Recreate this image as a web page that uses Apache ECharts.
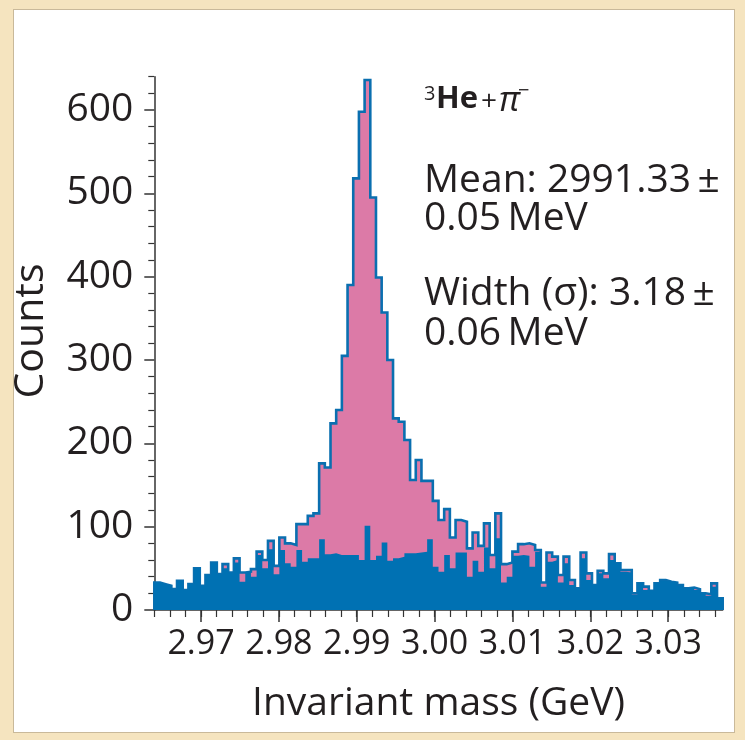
<!DOCTYPE html>
<html><head><meta charset="utf-8">
<script src="https://cdn.jsdelivr.net/npm/echarts@6/dist/echarts.min.js"></script>
<style>
html,body{margin:0;padding:0;background:#f5e4bf;width:745px;height:740px;overflow:hidden}
#panel{position:absolute;left:13px;top:9px;width:722px;height:724px;background:#fff;border:1.5px solid #c9b99a;box-sizing:border-box}
#c{position:absolute;left:0;top:0;width:745px;height:740px}
</style>
</head><body><div id="panel"></div><div id="c"></div>
<script>
// Histogram binning (GeV)
const binStart = 2.964;
const binWidth = 0.00073;
// Total counts per bin (pink, blue outline)
const totalCounts = [33,31,29,25,35,24,31,50,29,42,57,43,55,45,62,45,46,49,70,60,
  83,53,87,80,78,103,103,113,116,176,171,224,240,305,390,518,598,636,495,399,
  357,300,230,226,204,156,180,155,155,131,108,121,87,108,106,74,93,77,104,66,
  116,55,57,70,79,80,78,72,33,69,64,42,64,36,26,69,44,30,47,44,
  67,56,48,48,20,32,28,23,32,36,34,33,30,26,27,25,20,19,32,14];
// Background counts per bin (blue fill)
const backgroundCounts = [33,31,29,25,35,24,31,50,29,42,57,43,50,45,57,34,45,40,66,50,
  73,43,72,56,52,72,58,62,62,85,67,68,66,66,66,66,60,101,60,65,
  81,59,62,64,68,68,69,70,85,52,46,66,50,69,69,40,59,46,75,50,
  86,33,40,65,66,65,52,70,28,58,60,33,56,30,26,62,36,30,44,38,
  60,56,46,45,18,32,24,23,32,35,34,33,29,26,27,24,20,17,28,14];
// Axis ticks
const xMajorTicks = [2.97,2.98,2.99,3.00,3.01,3.02,3.03];
const xMinorTicks = [2.964,2.966,2.968,2.970,2.972,2.974,2.976,2.978,2.980,2.982,2.984,2.986,2.988,2.990,
  2.992,2.994,2.996,2.998,3.000,3.002,3.004,3.006,3.008,3.010,3.012,3.014,3.016,3.018,3.020,3.022,
  3.024,3.026,3.028,3.030,3.032,3.034,3.036];
const yMajorTicks = [0,100,200,300,400,500,600];
const yMinorTicks = [20,40,60,80,120,140,160,180,220,240,260,280,320,340,360,380,420,440,460,480,520,540,560,580,620,640];

function stepData(counts){
  const d = [[binStart,0]];
  counts.forEach((c,i)=>d.push([binStart+i*binWidth,c]));
  const end = binStart+counts.length*binWidth;
  d.push([end,counts[counts.length-1]]);
  d.push([end,0]);
  return d;
}
const xMin = binStart, xMax = binStart+totalCounts.length*binWidth;
const FONT = '"Open Sans", sans-serif';
const TXT = '#231f20';
const chart = echarts.init(document.getElementById('c'), null, {renderer:'canvas'});
const axisCommon = {type:'value', min:xMin, max:xMax, splitLine:{show:false}};
chart.setOption({
  animation:false,
  grid:{left:154.3, right:22.3, top:76.7, bottom:130},
  xAxis:[
    Object.assign({}, axisCommon, {
      position:'bottom',
      axisLine:{show:true, lineStyle:{color:'#333', width:1.5}},
      axisTick:{show:true, customValues:xMajorTicks, length:12, lineStyle:{color:'#333', width:1.5}},
      axisLabel:{show:true, customValues:xMajorTicks, margin:17, formatter:v=>v.toFixed(2),
        fontFamily:FONT, fontSize:34, color:TXT},
      name:'Invariant mass (GeV)', nameLocation:'middle', nameGap:74,
      nameTextStyle:{fontFamily:FONT, fontSize:39, color:TXT}
    }),
    Object.assign({}, axisCommon, {
      position:'bottom',
      axisLine:{show:false},
      axisTick:{show:true, customValues:xMinorTicks, length:7, lineStyle:{color:'#333', width:1.2}},
      axisLabel:{show:false}
    })
  ],
  yAxis:[
    {type:'value', min:0, max:640, splitLine:{show:false},
      axisLine:{show:true, lineStyle:{color:'#333', width:1.5}},
      axisTick:{show:true, customValues:yMajorTicks, length:10, lineStyle:{color:'#333', width:1.5}},
      axisLabel:{show:true, customValues:yMajorTicks, margin:21, fontFamily:FONT, fontSize:39, color:TXT}
    },
    {type:'value', min:0, max:640, position:'left', splitLine:{show:false},
      axisLine:{show:false},
      axisTick:{show:true, customValues:yMinorTicks, length:6, lineStyle:{color:'#333', width:1.2}},
      axisLabel:{show:false}
    }
  ],
  series:[
    {type:'line', name:'total', data:stepData(totalCounts), step:'end', showSymbol:false, symbol:'none',
      xAxisIndex:0, yAxisIndex:0, z:2,
      lineStyle:{color:'#0a6fb0', width:2.6, join:'miter'},
      areaStyle:{color:'#dc7aa7', opacity:1, origin:'start'}},
    {type:'line', name:'background', data:stepData(backgroundCounts), step:'end', showSymbol:false, symbol:'none',
      xAxisIndex:0, yAxisIndex:0, z:3,
      lineStyle:{width:0},
      areaStyle:{color:'#0071b3', opacity:1, origin:'start'}}
  ],
  graphic:[
    {type:'text', x:31, y:331, rotation:Math.PI/2, style:{text:'Counts', font:'41px '+FONT, fill:TXT, align:'center', verticalAlign:'middle'}},
    {type:'text', left:424, top:84, style:{text:'3', font:'20px '+FONT, fill:TXT}},
    {type:'text', left:436, top:84, style:{text:'He', font:'bold 31px '+FONT, fill:TXT}},
    {type:'text', left:481, top:88, style:{text:'+', font:'28px '+FONT, fill:TXT}},
    {type:'text', left:499, top:84, style:{text:'π', font:'italic 35px '+FONT, fill:TXT}},
    {type:'text', left:518, top:81, style:{text:'−', font:'20px '+FONT, fill:TXT}},
    {type:'text', left:424, top:161, style:{text:'Mean: 2991.33\u2009±', font:'39px '+FONT, fill:TXT}},
    {type:'text', left:424, top:199, style:{text:'0.05\u2009MeV', font:'39px '+FONT, fill:TXT}},
    {type:'text', left:424, top:274, style:{text:'Width (σ): 3.18\u2009±', font:'39px '+FONT, fill:TXT}},
    {type:'text', left:424, top:314, style:{text:'0.06\u2009MeV', font:'39px '+FONT, fill:TXT}}
  ]
});
</script>
</body></html>
